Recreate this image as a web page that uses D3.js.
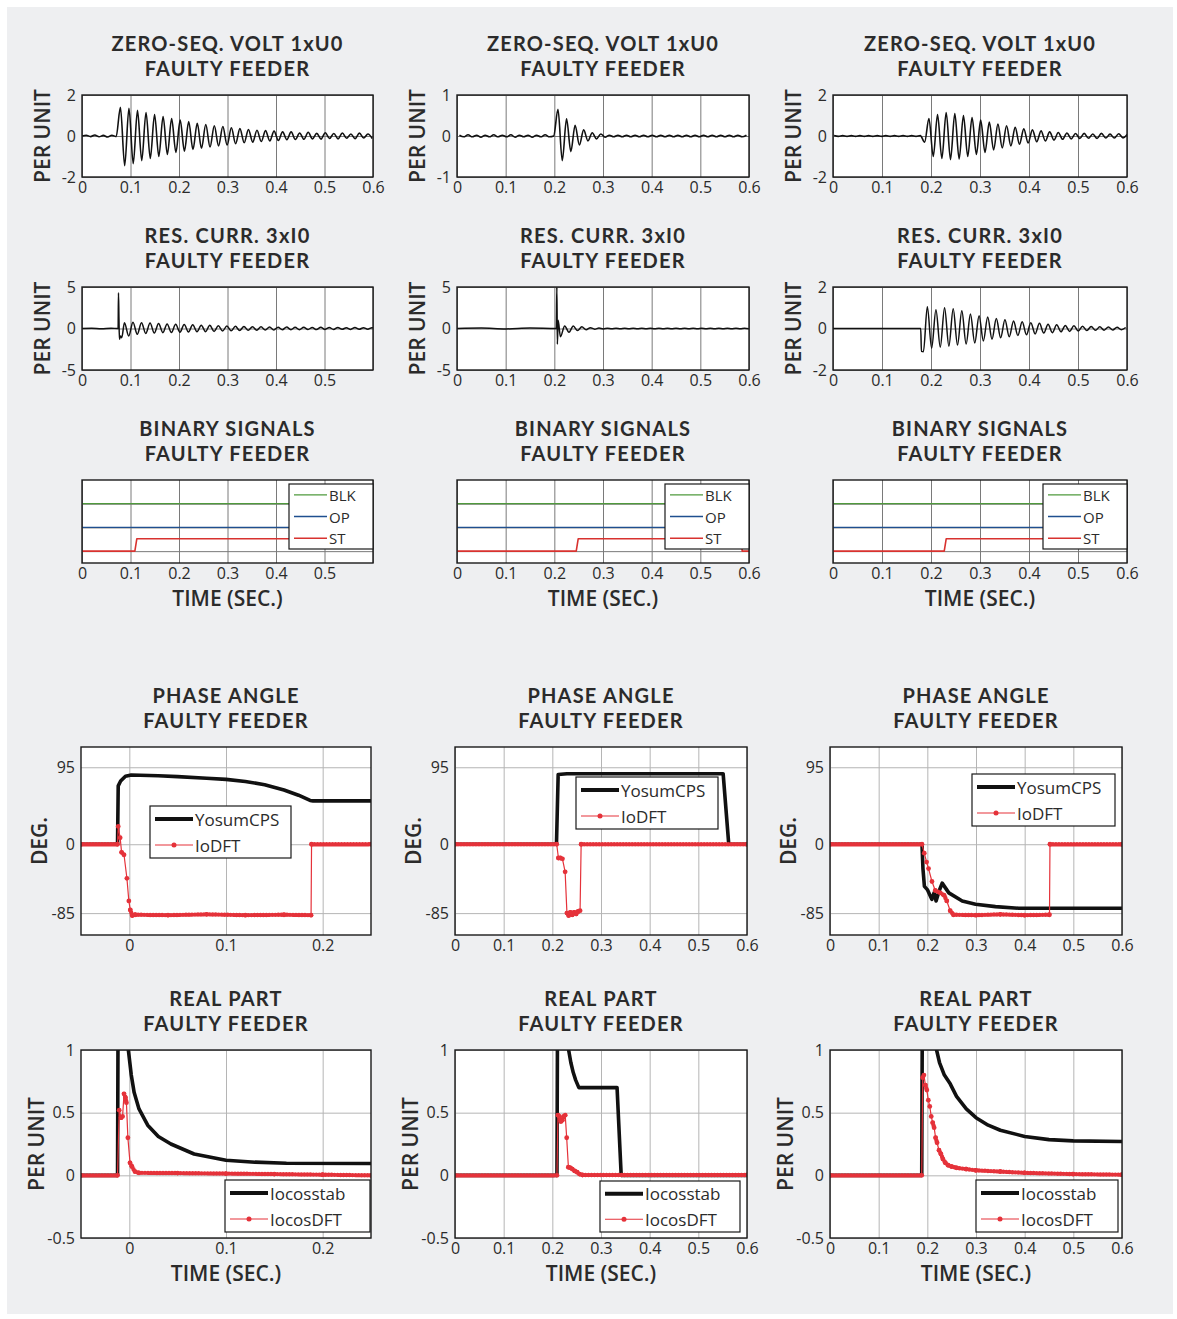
<!DOCTYPE html>
<html>
<head>
<meta charset="utf-8">
<script src="https://cdn.jsdelivr.net/npm/d3@7"></script>
<style>
  body { margin: 0; background: #fff; }
  svg { display: block; }
  text { font-family: "Open Sans", sans-serif; fill: #2b2b2b; }
  text.title { font-family: Lato, "Open Sans", sans-serif; }
</style>
</head>
<body>
<svg width="1177" height="1319"></svg>
<script>
// ---------- data ----------
var halfCycle = 0.0088;   // spacing of the oscillation peaks (s)

// zero-sequence voltage, peak values per half cycle
var u0Start = [0, 0.0051, 0.0022];
var u0Vals1 = [0, 0.04,-0.03,0.05,-0.04,0.03,-0.05,0.04,-0.03,
  1.40,-1.45,1.35,-1.35,1.25,-1.2,1.15,-1.1,1.05,-1.0,
  0.95,-0.9,0.85,-0.8,0.78,-0.74,0.7,-0.66,0.62,-0.6,
  0.56,-0.54,0.5,-0.48,0.46,-0.44,0.4,-0.38,0.36,-0.33,
  0.32,-0.3,0.28,-0.27,0.26,-0.24,0.24,-0.22,0.2,-0.18,
  0.2,-0.17,0.15,-0.16,0.18,-0.14,0.13,-0.15,0.16,-0.12,
  0.12,-0.14,0.15,-0.11,0.1,-0.13,0.14,-0.1,0.1,-0.12];
var u0Vals2 = [0.02,-0.02,0.03,-0.02,0.02,-0.03,0.02,-0.02,0.03,-0.02,
  0.02,-0.02,0.03,-0.03,0.02,-0.02,0.02,-0.03,0.02,-0.02,0.03,-0.02,0,
  0.65,-0.6,0.42,-0.38,0.26,-0.22,0.15,-0.12,0.08,-0.07,0.05,
  -0.03,0.02,-0.02,0.02,-0.02,0.02,-0.02,0.02,-0.02,0.02,
  -0.02,0.02,-0.02,0.02,-0.02,0.02,-0.02,0.02,-0.02,0.02,
  -0.02,0.02,-0.02,0.02,-0.02,0.02,-0.02,0.02,-0.02,0.02,
  -0.02,0.02,-0.02,0.02];
var u0Vals3 = [0.02,-0.02,0.02,-0.02,0.02,-0.02,0.02,-0.02,0.02,-0.02,
  0.02,-0.02,0.02,-0.02,0.02,-0.02,0.02,-0.02,0.02,-0.02,0.02,
  -0.3,0.85,-1.0,1.05,-1.1,1.15,-1.15,1.1,-1.12,1.0,
  -1.0,0.9,-0.9,0.78,-0.8,0.68,-0.68,0.58,-0.58,0.5,
  -0.48,0.42,-0.4,0.35,-0.34,0.3,-0.28,0.25,-0.24,0.2,
  -0.2,0.17,-0.16,0.15,-0.14,0.12,-0.12,0.13,-0.11,0.1,
  -0.12,0.13,-0.1,0.09,-0.1,0.11,-0.09,0.08];

// residual current: spike at fault onset, then peaks per half cycle
var i0Head1 = [[0,0],[0.02,0.04],[0.04,-0.03],[0.06,0.03],[0.0745,0],[0.0752,4.3],
  [0.0762,1.2],[0.0772,-1.3],[0.0795,-0.9],[0.082,-1.1]];
var i0Head2 = [[0,0],[0.05,0.05],[0.1,-0.05],[0.15,0.05],[0.204,0],[0.2052,4.95],
  [0.2062,-1.9],[0.2078,1.0]];
var i0Head3 = [[0,0],[0.179,0],[0.1805,-1.1],[0.1845,-1.12]];
var i0Start = [0.0875, 0.2125, 0.1925];
var i0Vals1 = [0.7,-0.9,0.75,-0.7,0.7,-0.6,0.65,-0.55,0.6,-0.5,
  0.55,-0.48,0.5,-0.45,0.48,-0.42,0.45,-0.4,0.4,-0.38,
  0.38,-0.35,0.33,-0.3,0.3,-0.28,0.26,-0.25,0.24,-0.22,
  0.22,-0.2,0.2,-0.18,0.18,-0.17,0.16,-0.15,0.17,-0.14,
  0.14,-0.15,0.15,-0.12,0.12,-0.13,0.14,-0.11,0.12,-0.12,
  0.13,-0.1,0.1,-0.11,0.12,-0.1,0.1,-0.09,0.1,-0.1];
var i0Vals2 = [-1.0,0.3,-0.45,0.3,-0.25,0.2,-0.15,0.1,-0.08,0.06,
  -0.05,0.04,-0.04,0.03,-0.03,0.03,-0.03,0.03,-0.03,0.03,
  -0.03,0.03,-0.03,0.03,-0.03,0.03,-0.03,0.03,-0.03,0.03,
  -0.03,0.03,-0.03,0.03,-0.03,0.03,-0.03,0.03,-0.03,0.03,
  -0.03,0.03,-0.03,0.03,-0.03];
var i0Vals3 = [1.05,-0.95,0.9,-0.9,1.0,-0.85,0.95,-0.8,0.85,-0.75,
  0.7,-0.7,0.62,-0.6,0.55,-0.52,0.48,-0.45,0.42,-0.4,
  0.36,-0.34,0.32,-0.3,0.28,-0.26,0.25,-0.22,0.2,-0.2,
  0.18,-0.16,0.15,-0.14,0.13,-0.12,0.11,-0.1,0.1,-0.09,
  0.08,-0.08,0.07,-0.07,0.06,-0.06,0.05];

// binary signals (level 0/1/2 lanes, ST high = 0.52)
var blkSig = [[0,2],[0.6,2]];
var opSig = [[0,1],[0.6,1]];
var stSig1 = [[0,0],[0.109,0],[0.113,0.52],[0.6,0.52]];
var stSig2 = [[0,0],[0.245,0],[0.249,0.52],[0.584,0.52],[0.586,0],[0.6,0]];
var stSig3 = [[0,0],[0.227,0],[0.231,0.52],[0.6,0.52]];

// phase angle (deg)
var yosum1 = [[-0.05,0],[-0.0122,0],[-0.0115,72],[-0.009,78],[-0.004,84],[0.002,85.5],[0.03,84.5],
  [0.05,83.5],[0.08,81.5],[0.1,80],[0.12,77.5],[0.14,73.5],[0.16,67],[0.175,60.5],[0.187,54],
  [0.19,53.5],[0.25,53.5]];
var ioDft1 = [[-0.05,0],[-0.0122,0],[-0.0115,22],[-0.0095,8],[-0.008,-10],[-0.0055,-13],
  [-0.0025,-42],[-0.0005,-70],[0.001,-81],[0.003,-88],[0.006,-87],[0.04,-87.5],[0.08,-86.5],
  [0.12,-87.5],[0.16,-87],[0.188,-87.5],[0.1885,0],[0.25,0]];
var yosum2 = [[0,0],[0.2085,0],[0.212,86],[0.23,87],[0.551,87],[0.5625,0],[0.6,0]];
var ioDft2 = [[0,0],[0.209,0],[0.2125,-17],[0.2165,-17],[0.2208,-18],[0.2263,-34],[0.23,-85],
  [0.2335,-88],[0.237,-84],[0.241,-87],[0.245,-84],[0.249,-86],[0.253,-83],[0.257,-82],
  [0.2592,0],[0.6,0]];
var yosum3 = [[0,0],[0.189,0],[0.191,-30],[0.194,-52],[0.2,-56],[0.2092,-68],[0.2138,-60],
  [0.218,-70],[0.224,-58],[0.2305,-48],[0.2442,-60],[0.2717,-70],[0.2991,-74],[0.34,-77],
  [0.388,-79],[0.6,-79]];
var ioDft3 = [[0,0],[0.189,0],[0.1937,-11],[0.1985,-22],[0.2025,-30],[0.2095,-46],[0.2163,-57],
  [0.2266,-60],[0.2345,-63],[0.24,-70],[0.247,-82],[0.2537,-87],[0.3,-87.5],[0.35,-86.5],
  [0.4,-87.5],[0.451,-87],[0.452,0],[0.6,0]];

// real part (per unit)
var cosStab1 = [[-0.05,0],[-0.0122,0],[-0.0115,1.6],[-0.0025,1.6],[-0.001,1.0],[0.002,0.8],
  [0.005,0.66],[0.01,0.53],[0.019,0.40],[0.03,0.31],[0.043,0.25],[0.067,0.17],[0.1,0.12],
  [0.13,0.105],[0.1625,0.096],[0.25,0.094]];
var cosDft1 = [[-0.05,0],[-0.0122,0],[-0.0105,0.52],[-0.0085,0.46],[-0.007,0.47],[-0.0055,0.65],
  [-0.004,0.62],[-0.003,0.58],[-0.0015,0.3],[0.0007,0.1],[0.0027,0.07],[0.0058,0.03],
  [0.01,0.02],[0.05,0.018],[0.1,0.014],[0.15,0.01],[0.2,0.005],[0.25,0]];
var cosStab2 = [[0,0],[0.2095,0],[0.211,1.6],[0.231,1.6],[0.2335,1.0],[0.238,0.9],[0.243,0.82],
  [0.248,0.76],[0.2545,0.7],[0.333,0.7],[0.3415,0],[0.6,0]];
var cosDft2 = [[0,0],[0.2095,0],[0.2115,0.48],[0.2145,0.47],[0.2175,0.43],[0.2205,0.44],
  [0.2235,0.47],[0.2265,0.48],[0.2295,0.3],[0.233,0.065],[0.237,0.06],[0.241,0.05],
  [0.246,0.035],[0.251,0.025],[0.256,0.01],[0.262,0.003],[0.6,0.003]];
var cosStab3 = [[0,0],[0.1885,0],[0.19,1.6],[0.216,1.6],[0.219,1.0],[0.225,0.9],[0.235,0.8],
  [0.247,0.73],[0.26,0.63],[0.28,0.53],[0.3,0.46],[0.325,0.4],[0.35,0.36],[0.4,0.31],
  [0.45,0.285],[0.5,0.275],[0.6,0.27]];
var cosDft3 = [[0,0],[0.1885,0],[0.1905,0.78],[0.193,0.8],[0.196,0.72],[0.199,0.68],[0.202,0.6],
  [0.205,0.55],[0.208,0.47],[0.211,0.42],[0.214,0.38],[0.217,0.3],[0.22,0.26],[0.224,0.2],
  [0.228,0.17],[0.232,0.13],[0.237,0.1],[0.243,0.08],[0.25,0.07],[0.26,0.06],[0.28,0.05],
  [0.3,0.04],[0.35,0.03],[0.4,0.02],[0.5,0.01],[0.6,0.005]];

// tick labels
var tTicks6 = [0, 0.1, 0.2, 0.3, 0.4, 0.5, 0.6];
var tTicks5 = [0, 0.1, 0.2, 0.3, 0.4, 0.5];
var tTicksShort = [0, 0.1, 0.2];
var degTicks = [95, 0, -85];
var realTicks = [1, 0.5, 0, -0.5];

// ---------- drawing ----------
var svg = d3.select("svg");
var RED = "#e5323a", BLACK = "#111";
var clipN = 0;

svg.append("rect")
  .attr("x", 7).attr("y", 7).attr("width", 1166).attr("height", 1307)
  .style("fill", "#eeeff1");

function wave(head, t0, vals) {
  return head.concat(vals.map(function(v, i) { return [t0 + i * halfCycle, v]; }));
}

function fmt(d) { return String(d); }

function panel(p) {
  var x = d3.scaleLinear().domain(p.xd).range([p.l, p.r]);
  var y = d3.scaleLinear().domain(p.yd).range([p.b, p.t]);
  var w = p.r - p.l, h = p.b - p.t;
  var g = svg.append("g");

  g.append("rect").attr("x", p.l).attr("y", p.t).attr("width", w).attr("height", h)
    .style("fill", "#fff");

  // grid
  g.append("g").attr("transform", "translate(0," + p.b + ")")
    .call(d3.axisBottom(x).tickValues(p.xg).tickSize(-h).tickFormat(""))
    .call(function(s) {
      s.select(".domain").remove();
      s.selectAll("line").style("stroke", p.grid).style("stroke-width", 1);
    });
  g.append("g").attr("transform", "translate(" + p.l + ",0)")
    .call(d3.axisLeft(y).tickValues(p.yg).tickSize(-w).tickFormat(""))
    .call(function(s) {
      s.select(".domain").remove();
      s.selectAll("line").style("stroke", p.grid).style("stroke-width", 1);
    });

  var id = "clip" + (++clipN);
  svg.append("clipPath").attr("id", id).append("rect")
    .attr("x", p.l).attr("y", p.t).attr("width", w).attr("height", h);
  var plot = g.append("g").attr("clip-path", "url(#" + id + ")");

  // tick labels
  g.append("g").attr("transform", "translate(0," + p.b + ")")
    .call(d3.axisBottom(x).tickValues(p.xt).tickSize(0).tickPadding(5).tickFormat(fmt))
    .call(function(s) {
      s.select(".domain").remove();
      s.selectAll("text").style("font-size", "16px").style("font-weight", 500);
    });
  if (p.yt) {
    g.append("g").attr("transform", "translate(" + p.l + ",0)")
      .call(d3.axisLeft(y).tickValues(p.yt).tickSize(0).tickPadding(6).tickFormat(fmt))
      .call(function(s) {
        s.select(".domain").remove();
        s.selectAll("text").style("font-size", "16px").style("font-weight", 500);
      });
  }

  // two-line title
  var cx = (p.l + p.r) / 2;
  [p.title, "FAULTY FEEDER"].forEach(function(s, i) {
    g.append("text").attr("class", "title").attr("x", cx).attr("y", p.t - 44 + i * 25)
      .attr("text-anchor", "middle")
      .style("font-size", "20px").style("font-weight", 700).style("letter-spacing", "1.2px")
      .text(s);
  });

  if (p.ylabel) {
    g.append("text")
      .attr("transform", "translate(" + (p.l - p.yoff) + "," + ((p.t + p.b) / 2) + ") rotate(-90)")
      .attr("text-anchor", "middle").attr("dominant-baseline", "central")
      .style("font-size", "21px").style("font-weight", 600).text(p.ylabel);
  }
  if (p.xlabel) {
    g.append("text").attr("x", cx).attr("y", p.b + 43).attr("text-anchor", "middle")
      .style("font-size", "21px").style("font-weight", 600).text(p.xlabel);
  }

  return { x: x, y: y, g: g, plot: plot, p: p };
}

function frame(P) {
  var p = P.p;
  P.g.append("rect").attr("x", p.l).attr("y", p.t)
    .attr("width", p.r - p.l).attr("height", p.b - p.t)
    .style("fill", "none").style("stroke", "#1a1a1a").style("stroke-width", 1.4);
}

function drawLine(P, data, color, width, curve) {
  var line = d3.line()
    .x(function(d) { return P.x(d[0]); })
    .y(function(d) { return P.y(d[1]); })
    .curve(curve || d3.curveLinear);
  P.plot.append("path").datum(data).attr("d", line)
    .style("fill", "none").style("stroke", color).style("stroke-width", width)
    .style("stroke-linejoin", "round");
}

// red DFT trace: thin line, a marker at each sample, dense markers along flat runs
function drawDft(P, data) {
  drawLine(P, data, RED, 1.2);
  var line = d3.line().x(function(d) { return P.x(d[0]); }).y(function(d) { return P.y(d[1]); });
  for (var i = 1; i < data.length; i++) {
    var a = data[i - 1], b = data[i];
    if (Math.abs(P.y(a[1]) - P.y(b[1])) < 6) {
      P.plot.append("path").attr("d", line([a, b]))
        .style("fill", "none").style("stroke", RED).style("stroke-width", 4.4)
        .style("stroke-linecap", "round").style("stroke-dasharray", "0,3");
    }
  }
  P.plot.selectAll(null).data(data).enter().append("circle")
    .attr("cx", function(d) { return P.x(d[0]); })
    .attr("cy", function(d) { return P.y(d[1]); })
    .attr("r", 2.4).style("fill", RED);
}

function legend(P, box, items, fs, len) {
  var lg = P.g.append("g");
  lg.append("rect").attr("x", box[0]).attr("y", box[1])
    .attr("width", box[2] - box[0]).attr("height", box[3] - box[1])
    .style("fill", "#fff").style("stroke", "#1a1a1a").style("stroke-width", 1.2);
  var n = items.length, step = (box[3] - box[1]) / n;
  items.forEach(function(it, i) {
    var yy = box[1] + step * (i + 0.5);
    lg.append("line").attr("x1", box[0] + 5).attr("x2", box[0] + 5 + len)
      .attr("y1", yy).attr("y2", yy)
      .style("stroke", it.color).style("stroke-width", it.width);
    if (it.marker) {
      lg.append("circle").attr("cx", box[0] + 5 + len / 2).attr("cy", yy).attr("r", 2.5)
        .style("fill", it.color);
    }
    lg.append("text").attr("x", box[0] + 7 + len).attr("y", yy)
      .attr("dominant-baseline", "central").style("font-size", fs + "px")
      .style("font-weight", 500).text(it.name);
  });
}

var colUp = [[82, 373], [457, 749], [833, 1127]];
var colLow = [[81, 371], [455, 747], [830, 1122]];
var gridUp = "#7a7a7a", gridLow = "#b5b5b5";

// row 1: zero-sequence voltage
var u0Vals = [u0Vals1, u0Vals2, u0Vals3];
var u0Range = [[-2, 2], [-1, 1], [-2, 2]];
u0Vals.forEach(function(vals, k) {
  var yd = u0Range[k];
  var P = panel({ l: colUp[k][0], r: colUp[k][1], t: 95, b: 177, xd: [0, 0.6], yd: yd,
    xg: tTicks6, yg: [yd[0], 0, yd[1]], xt: tTicks6, yt: [yd[0], 0, yd[1]],
    grid: gridUp, title: "ZERO-SEQ. VOLT 1xU0", ylabel: "PER UNIT", yoff: 40 });
  drawLine(P, wave([], u0Start[k], vals), BLACK, 1.6, d3.curveMonotoneX);
  frame(P);
});

// row 2: residual current
var i0Heads = [i0Head1, i0Head2, i0Head3];
var i0Vals = [i0Vals1, i0Vals2, i0Vals3];
var i0Range = [[-5, 5], [-5, 5], [-2, 2]];
i0Vals.forEach(function(vals, k) {
  var yd = i0Range[k];
  var P = panel({ l: colUp[k][0], r: colUp[k][1], t: 287, b: 370, xd: [0, 0.6], yd: yd,
    xg: tTicks6, yg: [yd[0], 0, yd[1]], xt: k === 0 ? tTicks5 : tTicks6, yt: [yd[0], 0, yd[1]],
    grid: gridUp, title: "RES. CURR. 3xI0", ylabel: "PER UNIT", yoff: 40 });
  drawLine(P, wave(i0Heads[k], i0Start[k], vals), BLACK, 1.5, d3.curveMonotoneX);
  frame(P);
});

// row 3: binary signals
var stSigs = [stSig1, stSig2, stSig3];
stSigs.forEach(function(st, k) {
  var P = panel({ l: colUp[k][0], r: colUp[k][1], t: 480, b: 563, xd: [0, 0.6], yd: [-0.5, 3],
    xg: tTicks6, yg: [0, 1, 2], xt: k === 0 ? tTicks5 : tTicks6, yt: null,
    grid: gridUp, title: "BINARY SIGNALS", xlabel: "TIME (SEC.)" });
  drawLine(P, blkSig, "#4f9a3c", 1.3);
  drawLine(P, opSig, "#1f4f8f", 1.3);
  drawLine(P, st, "#d8322f", 1.6);
  frame(P);
  var r = colUp[k][1];
  legend(P, [r - 84, 484, r, 549], [
    { name: "BLK", color: "#4f9a3c", width: 1.3 },
    { name: "OP", color: "#1f4f8f", width: 1.3 },
    { name: "ST", color: "#d8322f", width: 1.5 }], 15, 33);
});

// row 4: phase angle
var yosums = [yosum1, yosum2, yosum3];
var ioDfts = [ioDft1, ioDft2, ioDft3];
var phaseBoxes = [[150, 806, 291, 858], [576, 777, 718, 829], [972, 774, 1115, 826]];
yosums.forEach(function(ys, k) {
  var xd = k === 0 ? [-0.05, 0.25] : [0, 0.6];
  var xt = k === 0 ? tTicksShort : tTicks6;
  var P = panel({ l: colLow[k][0], r: colLow[k][1], t: 747, b: 935, xd: xd, yd: [-112, 120],
    xg: xt, yg: degTicks, xt: xt, yt: degTicks,
    grid: gridLow, title: "PHASE ANGLE", ylabel: "DEG.", yoff: 42 });
  drawLine(P, ys, BLACK, 3.6);
  drawDft(P, ioDfts[k]);
  frame(P);
  legend(P, phaseBoxes[k], [
    { name: "YosumCPS", color: BLACK, width: 4 },
    { name: "IoDFT", color: RED, width: 1.2, marker: true }], 17, 38);
});

// row 5: real part
var cosStabs = [cosStab1, cosStab2, cosStab3];
var cosDfts = [cosDft1, cosDft2, cosDft3];
var realBoxes = [[225, 1180, 370, 1232], [600, 1181, 740, 1232], [976, 1180, 1118, 1232]];
cosStabs.forEach(function(cs, k) {
  var xd = k === 0 ? [-0.05, 0.25] : [0, 0.6];
  var xt = k === 0 ? tTicksShort : tTicks6;
  var P = panel({ l: colLow[k][0], r: colLow[k][1], t: 1050, b: 1238, xd: xd, yd: [-0.5, 1],
    xg: xt, yg: realTicks, xt: xt, yt: realTicks,
    grid: gridLow, title: "REAL PART", ylabel: "PER UNIT", yoff: 45, xlabel: "TIME (SEC.)" });
  drawLine(P, cs, BLACK, 3.6);
  drawDft(P, cosDfts[k]);
  frame(P);
  legend(P, realBoxes[k], [
    { name: "Iocosstab", color: BLACK, width: 4 },
    { name: "IocosDFT", color: RED, width: 1.2, marker: true }], 17, 38);
});
</script>
</body>
</html>
